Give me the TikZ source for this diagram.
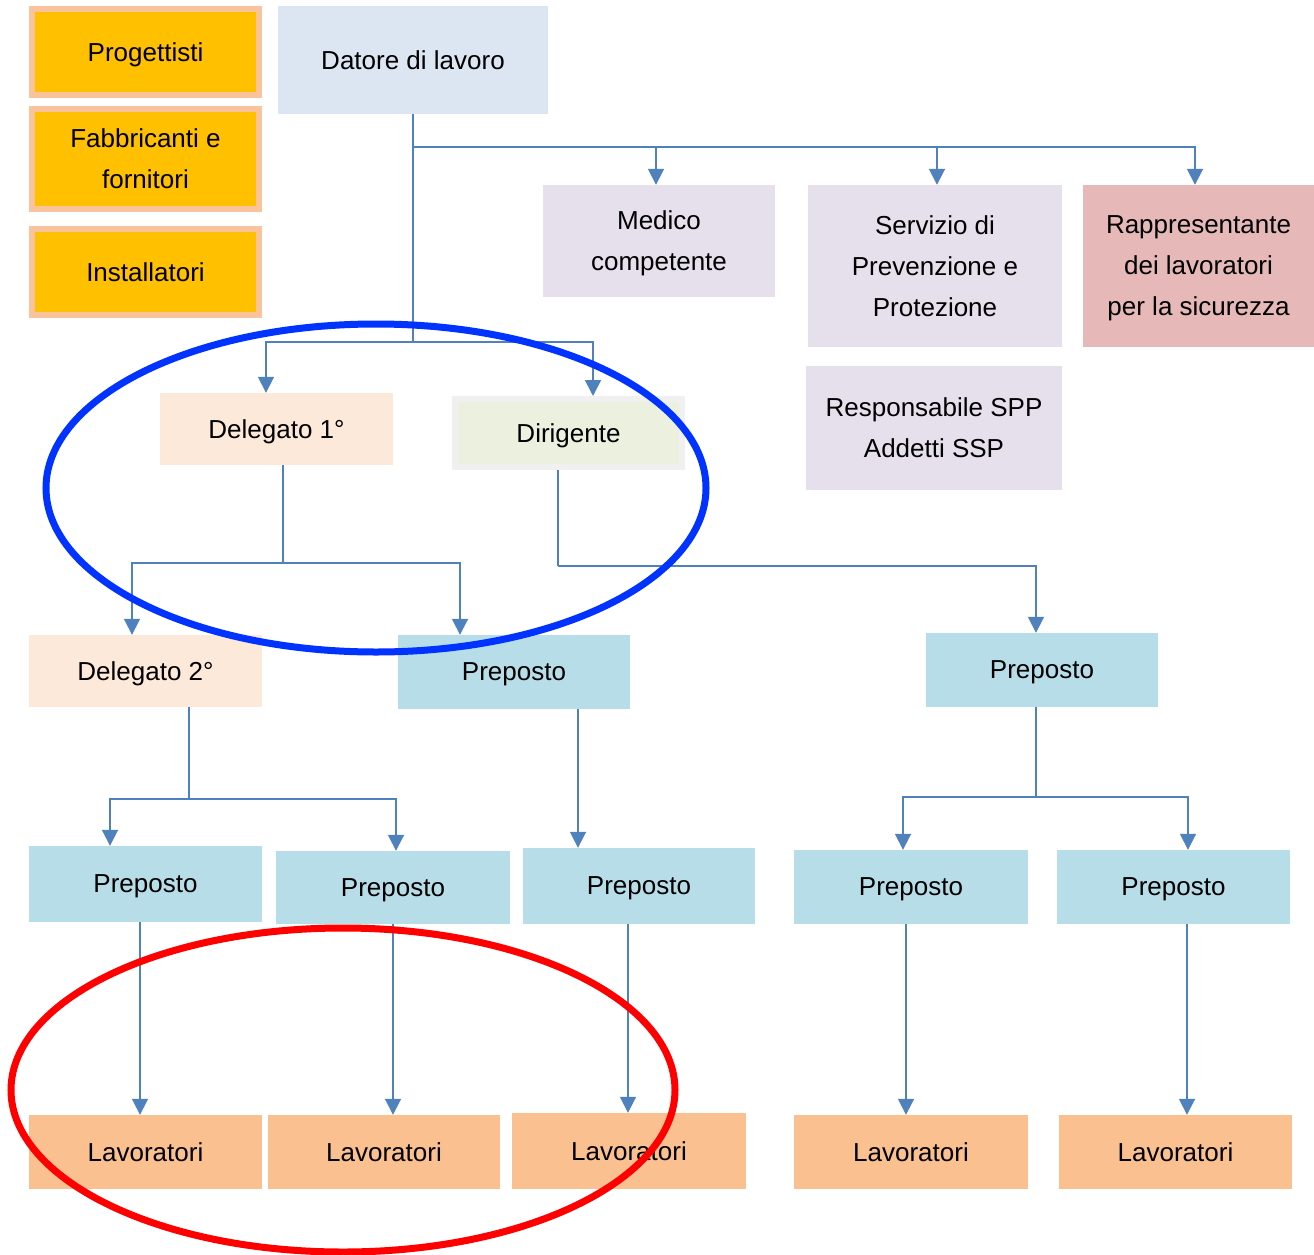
\documentclass[tikz,border=0pt]{standalone}
\usepackage{fontspec}
\setmainfont{Liberation Sans}
\usetikzlibrary{arrows.meta}
\definecolor{gold}{HTML}{FFC000}
\definecolor{peachline}{HTML}{F9C39B}
\definecolor{datorefill}{HTML}{DCE6F2}
\definecolor{lavender}{HTML}{E5E0EC}
\definecolor{rlsfill}{HTML}{E6B9B8}
\definecolor{delfill}{HTML}{FDE9D9}
\definecolor{dirfill}{HTML}{EBF1DE}
\definecolor{dirline}{HTML}{F0F0F0}
\definecolor{prepfill}{HTML}{B7DEE8}
\definecolor{lavfill}{HTML}{FAC090}
\definecolor{conncol}{HTML}{4F81BD}
\definecolor{ringblue}{HTML}{0033FF}
\definecolor{ringred}{HTML}{FF0000}
\begin{document}
\begin{tikzpicture}[x=1pt,y=-1pt,
  box/.style={rectangle, inner sep=0pt, align=center, text=black, text depth=0pt,
    font=\fontsize{26}{41}\selectfont, minimum width=233, minimum height=74},
  side/.style={box, fill=gold, draw=peachline, line width=6pt, minimum width=227},
  lav/.style={box, fill=lavender},
  prep/.style={box, fill=prepfill},
  worker/.style={box, fill=lavfill},
  deleg/.style={box, fill=delfill},
  link/.style={draw=conncol, line width=1.8pt},
  arr/.style={link, -{Triangle[width=16pt,length=16pt]}},
  ring/.style={line width=7pt}
]
\useasboundingbox (0,0) rectangle (1314,1255);

% side boxes
\node[side, minimum height=86] (prog) at (145.5,52) {Progettisti};
\node[side, minimum height=100] (fabb) at (145.5,159) {Fabbricanti e\\fornitori};
\node[side, minimum height=86] (inst) at (145.5,272) {Installatori};

% top of the chart
\node[box, fill=datorefill, minimum width=270, minimum height=108] (datore) at (413,60) {Datore di lavoro};
\node[lav, minimum width=232, minimum height=112] (medico) at (659,241) {Medico\\competente};
\node[lav, minimum width=254, minimum height=162] (spp) at (935,266) {Servizio di\\Prevenzione e\\Protezione};
\node[box, fill=rlsfill, minimum width=231, minimum height=162] (rls) at (1198.5,266) {Rappresentante\\dei lavoratori\\per la sicurezza};
\node[lav, minimum width=256, minimum height=124] (rspp) at (934,428) {Responsabile SPP\\Addetti SSP};

% second level
\node[deleg, minimum height=72] (del1) at (276.5,429) {Delegato 1°};
\node[box, fill=dirfill, draw=dirline, line width=6pt, minimum width=227, minimum height=68] (dirig) at (568.5,433) {Dirigente};

% third level
\node[deleg, minimum height=72] (del2) at (145.5,671) {Delegato 2°};
\node[prep, minimum width=232] (prepM) at (514,672) {Preposto};
\node[prep, minimum width=232] (prepR) at (1042,670) {Preposto};

% fourth level
\node[prep, minimum height=76] (p1) at (145.5,884) {Preposto};
\node[prep, minimum width=234, minimum height=73] (p2) at (393,887.5) {Preposto};
\node[prep, minimum width=232, minimum height=76] (p3) at (639,886) {Preposto};
\node[prep, minimum width=234] (p4) at (911,887) {Preposto};
\node[prep, minimum width=233] (p5) at (1173.5,887) {Preposto};

% workers
\node[worker] (l1) at (145.5,1152) {Lavoratori};
\node[worker, minimum width=232] (l2) at (384,1152) {Lavoratori};
\node[worker, minimum width=234, minimum height=76] (l3) at (629,1151) {Lavoratori};
\node[worker, minimum width=234] (l4) at (911,1152) {Lavoratori};
\node[worker, minimum width=233] (l5) at (1175.5,1152) {Lavoratori};

% junction points
\coordinate (j1) at (413,147);
\coordinate (j2) at (413,342);
\coordinate (j3) at (283,563);
\coordinate (j4) at (558,566);
\coordinate (j5) at (189,799);
\coordinate (j6) at (1036,797);

% connectors from the employer
\draw[link] (datore.south) -- (j2);
\draw[arr] (j1) -| (medico.north -| 656,0);
\draw[arr] (j1) -| (spp.north -| 937,0);
\draw[arr] (j1) -| (rls.north -| 1195,0);
\draw[arr] (j2) -| (del1.north -| 266,0);
\draw[arr] (j2) -| (dirig.north -| 593,0);

% delegato 1 and dirigente
\draw[link] (del1.south -| 283,0) -- (j3);
\draw[arr] (j3) -| (del2.north -| 132,0);
\draw[arr] (j3) -| (prepM.north -| 460,0);
\draw[link] (dirig.south -| 558,0) -- (j4);
\draw[arr] (j4) -| (prepR.north -| 1036,0);

% third level downwards
\draw[link] (del2.south -| 189,0) -- (j5);
\draw[arr] (j5) -| (p1.north -| 110,0);
\draw[arr] (j5) -| (p2.north -| 396,0);
\draw[arr] (prepM.south -| 578,0) -- (p3.north -| 578,0);
\draw[link] (prepR.south -| 1036,0) -- (j6);
\draw[arr] (j6) -| (p4.north -| 903,0);
\draw[arr] (j6) -| (p5.north -| 1188,0);

% supervisors to workers
\draw[arr] (p1.south -| 140,0) -- (l1.north -| 140,0);
\draw[arr] (p2.south -| 393,0) -- (l2.north -| 393,0);
\draw[arr] (p3.south -| 628,0) -- (l3.north -| 628,0);
\draw[arr] (p4.south -| 906,0) -- (l4.north -| 906,0);
\draw[arr] (p5.south -| 1187,0) -- (l5.north -| 1187,0);

% highlight rings
\draw[ring, draw=ringblue] (376,488) ellipse [x radius=330, y radius=164];
\draw[ring, draw=ringred] (343,1090) ellipse [x radius=332, y radius=162];
\end{tikzpicture}
\end{document}
